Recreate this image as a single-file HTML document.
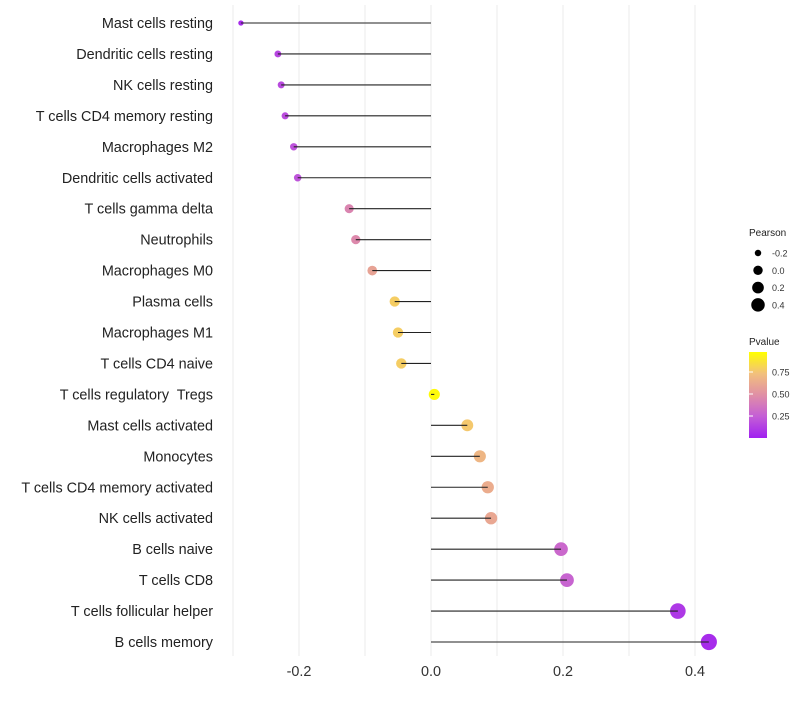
<!DOCTYPE html>
<html><head><meta charset="utf-8"><style>
body{margin:0;background:#fff;font-family:"Liberation Sans",Arial,sans-serif}
svg text{font-family:"Liberation Sans",Arial,sans-serif;white-space:pre}
</style></head><body>
<svg id="chart" width="800" height="700" xmlns="http://www.w3.org/2000/svg">
<defs><linearGradient id="pg" x1="0" y1="1" x2="0" y2="0">
<stop offset="0" stop-color="#a020f0"/><stop offset="0.25" stop-color="#c45ed6"/><stop offset="0.5" stop-color="#e08fa6"/><stop offset="0.75" stop-color="#f2c07c"/><stop offset="1" stop-color="#ffff00"/></linearGradient></defs>
<g id="grid"></g><g id="marks"></g><g id="labels"></g>
<g>
<text x="749" y="236" font-size="10" fill="#222">Pearson</text>
<g id="sizeleg"></g>
<text x="749" y="345" font-size="10" fill="#222">Pvalue</text>
<rect x="749" y="352" width="18" height="86" fill="url(#pg)"/>
<g id="colleg"></g>
</g>
</svg>
<script>
const cells=["Mast cells resting","Dendritic cells resting","NK cells resting","T cells CD4 memory resting","Macrophages M2","Dendritic cells activated","T cells gamma delta","Neutrophils","Macrophages M0","Plasma cells","Macrophages M1","T cells CD4 naive","T cells regulatory  Tregs","Mast cells activated","Monocytes","T cells CD4 memory activated","NK cells activated","B cells naive","T cells CD8","T cells follicular helper","B cells memory"];
const pearson=[-0.288,-0.232,-0.227,-0.221,-0.208,-0.202,-0.124,-0.114,-0.089,-0.055,-0.05,-0.045,0.005,0.055,0.074,0.086,0.091,0.197,0.206,0.374,0.421];
const pvalue=[0.05,0.15,0.17,0.18,0.2,0.21,0.45,0.47,0.6,0.8,0.8,0.8,0.98,0.78,0.7,0.65,0.62,0.3,0.28,0.1,0.05];
const xTicks=[-0.2,0,0.2,0.4];
const xTickLabels=["-0.2","0.0","0.2","0.4"];
const sizeLeg=[-0.2,0,0.2,0.4];
const colLeg=[0.25,0.5,0.75];
const NS="http://www.w3.org/2000/svg";
const x=v=>431+v*660;
const y=i=>23+i*30.95;
const r=v=>Math.sqrt(Math.max(3,7+(v+0.29)/0.71*58));
const stops=[[160,32,240],[196,94,214],[224,143,166],[242,192,124],[255,255,0]];
function col(p){p=Math.max(0,Math.min(1,p));const s=Math.min(3,Math.floor(p*4));const f=p*4-s;const a=stops[s],b=stops[s+1];return "rgb("+a.map((c,i)=>Math.round(c+(b[i]-c)*f)).join(",")+")";}
function mk(t,attrs,parent){const e=document.createElementNS(NS,t);for(const k in attrs)e.setAttribute(k,attrs[k]);document.getElementById(parent).appendChild(e);return e;}
for(let v=-0.3;v<=0.41;v+=0.1){const g=mk("line",{x1:x(v),x2:x(v),y1:5,y2:656,stroke:"#ebebeb","stroke-width":1},"grid");

}
xTicks.forEach((v,i)=>{const t=mk("text",{x:x(v),y:676,"font-size":14.4,"text-anchor":"middle",fill:"#333"},"labels");t.textContent=xTickLabels[i];

});
cells.forEach((c,i)=>{
const t=mk("text",{x:213,y:y(i)+5,"font-size":14.4,"text-anchor":"end",fill:"#222"},"labels");t.textContent=c;


const d=mk("circle",{cx:x(pearson[i]),cy:y(i),r:r(pearson[i]),fill:col(pvalue[i])},"marks");


const l=mk("line",{x1:x(0),x2:x(pearson[i]),y1:y(i),y2:y(i),stroke:"#222","stroke-width":1.1},"marks");


});
sizeLeg.forEach((v,i)=>{const yy=253+i*17.3;
const d=mk("circle",{cx:758,cy:yy,r:r(v)*0.85,fill:"#000"},"sizeleg");


const t=mk("text",{x:772,y:yy+3.5,"font-size":9,fill:"#333"},"sizeleg");t.textContent=v.toFixed(1);

});
colLeg.forEach(v=>{const yy=438-v*88;
const l=mk("line",{x1:749,x2:753,y1:yy,y2:yy,stroke:"#fff"},"colleg");


const t=mk("text",{x:772,y:yy+3.5,"font-size":9,fill:"#333"},"colleg");t.textContent=v.toFixed(2);

});
</script>
</body></html>
